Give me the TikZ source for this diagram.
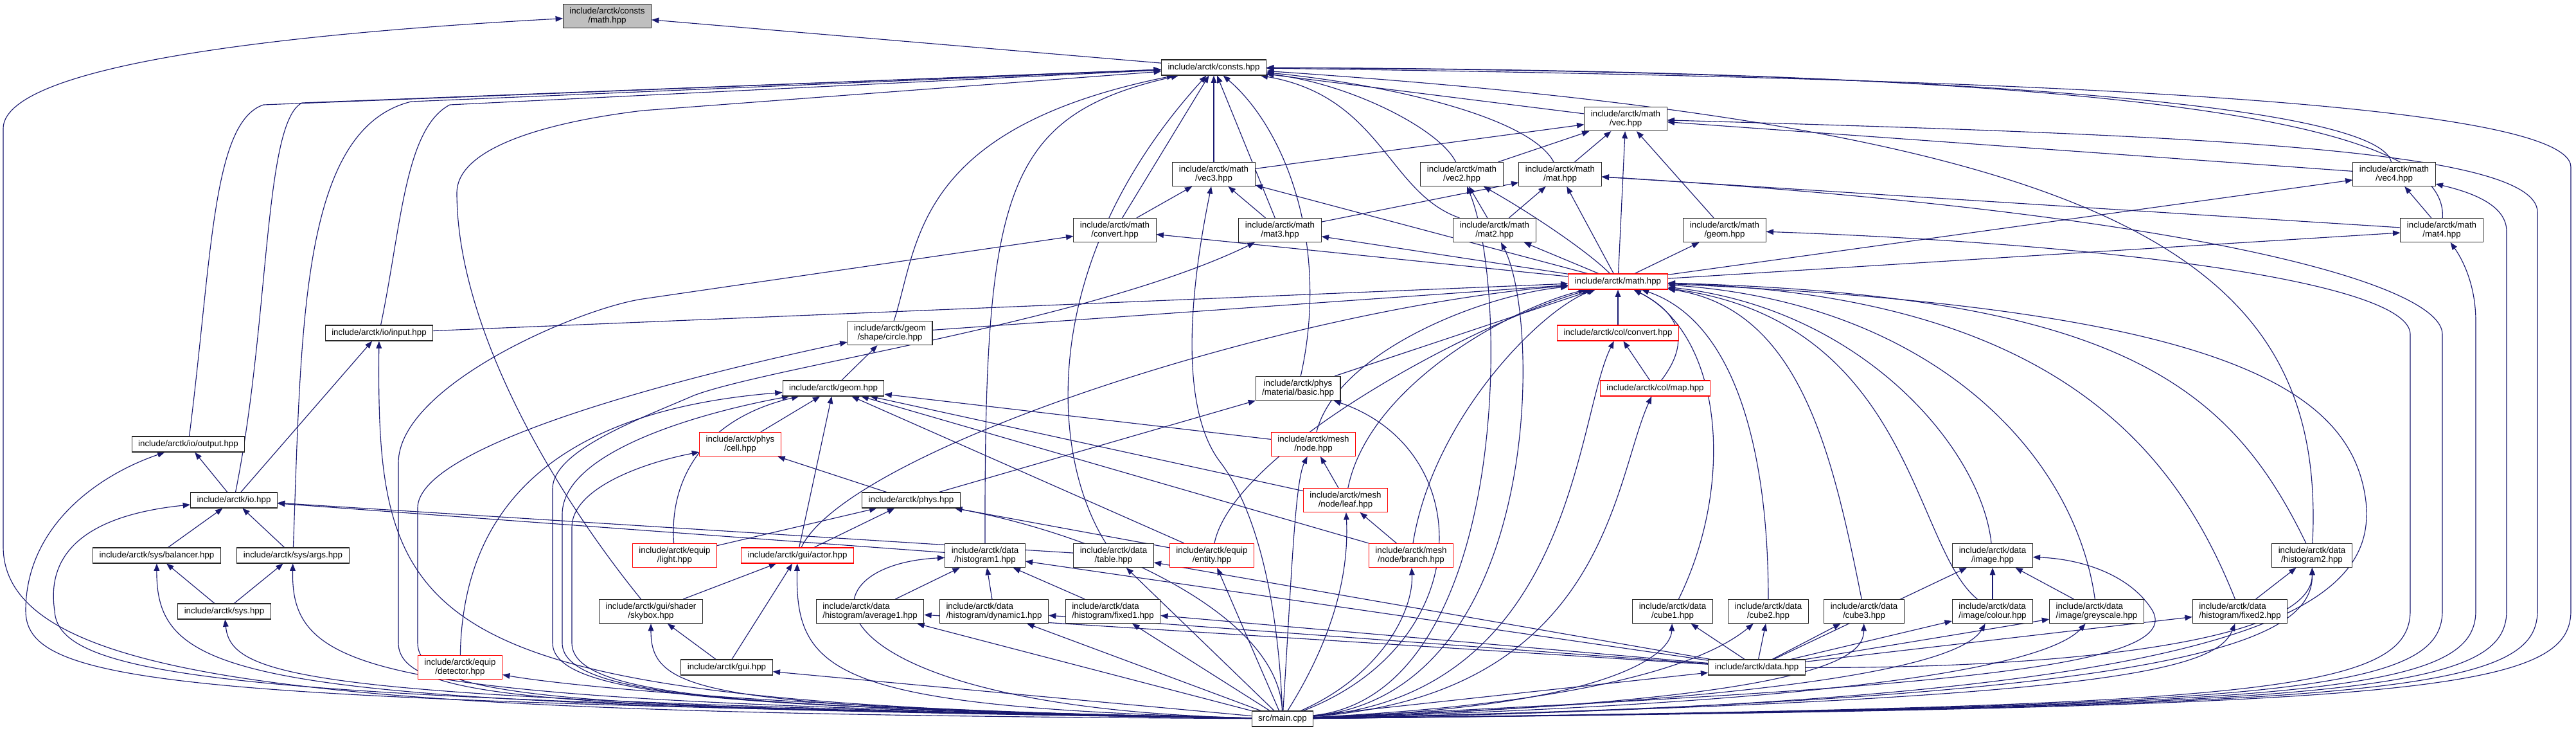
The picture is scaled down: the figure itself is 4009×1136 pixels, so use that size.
\documentclass[tikz,border=0pt]{standalone}
\usepackage{fontspec}
\setmainfont{Liberation Sans}
\usetikzlibrary{arrows.meta,backgrounds}
\definecolor{edgeblue}{HTML}{191970}
\definecolor{nodegrey}{HTML}{BFBFBF}
\tikzset{
  file/.style={draw=black!85,fill=white,line width=0.8pt,align=center,inner xsep=7.5pt,inner ysep=4pt,minimum height=18pt,font=\fontsize{10}{10.5}\selectfont},
  redfile/.style={file,draw=red},
  leftfile/.style={file,align=left},
  thisfile/.style={file,fill=nodegrey},
  dep/.style={draw=edgeblue,line width=0.85pt,-{Triangle[length=8.5pt,width=6.5pt]}}
}
\begin{document}
\begin{tikzpicture}[x=0.75pt,y=-0.75pt]
\useasboundingbox (0,0) rectangle (4009,1136);
\node[thisfile] (constsmath) at (945,25) {include/arctk/consts\\/math.hpp};
\node[file] (consts) at (1889,105) {include/arctk/consts.hpp};
\node[file] (vec) at (2530,185) {include/arctk/math\\/vec.hpp};
\node[file] (vec3) at (1889,271) {include/arctk/math\\/vec3.hpp};
\node[file] (vec2) at (2275,271) {include/arctk/math\\/vec2.hpp};
\node[file] (mat) at (2428,271) {include/arctk/math\\/mat.hpp};
\node[file] (vec4) at (3726,271) {include/arctk/math\\/vec4.hpp};
\node[file] (mconvert) at (1735,358) {include/arctk/math\\/convert.hpp};
\node[file] (mat3) at (1992,358) {include/arctk/math\\/mat3.hpp};
\node[file] (mat2) at (2326,358) {include/arctk/math\\/mat2.hpp};
\node[file] (mgeom) at (2684,358) {include/arctk/math\\/geom.hpp};
\node[file] (mat4) at (3800,358) {include/arctk/math\\/mat4.hpp};
\node[redfile] (math) at (2518,438) {include/arctk/math.hpp};
\node[file] (input) at (590,518) {include/arctk/io/input.hpp};
\node[file] (circle) at (1385,518) {include/arctk/geom\\/shape/circle.hpp};
\node[redfile] (colconvert) at (2518,518) {include/arctk/col/convert.hpp};
\node[file] (geom) at (1297,604) {include/arctk/geom.hpp};
\node[file] (basic) at (2020,604) {include/arctk/phys\\/material/basic.hpp};
\node[redfile] (colmap) at (2576,604) {include/arctk/col/map.hpp};
\node[file] (output) at (293,691) {include/arctk/io/output.hpp};
\node[redfile] (cell) at (1152,691) {include/arctk/phys\\/cell.hpp};
\node[redfile] (meshnode) at (2044,691) {include/arctk/mesh\\/node.hpp};
\node[file] (io) at (364,778) {include/arctk/io.hpp};
\node[file] (phys) at (1418,778) {include/arctk/phys.hpp};
\node[redfile] (leaf) at (2094,778) {include/arctk/mesh\\/node/leaf.hpp};
\node[file] (balancer) at (244,864) {include/arctk/sys/balancer.hpp};
\node[file] (args) at (456,864) {include/arctk/sys/args.hpp};
\node[redfile] (light) at (1050,864) {include/arctk/equip\\/light.hpp};
\node[redfile] (actor) at (1241,864) {include/arctk/gui/actor.hpp};
\node[file] (hist1) at (1533,864) {include/arctk/data\\/histogram1.hpp};
\node[file] (table) at (1733,864) {include/arctk/data\\/table.hpp};
\node[redfile] (entity) at (1886,864) {include/arctk/equip\\/entity.hpp};
\node[redfile] (branch) at (2196,864) {include/arctk/mesh\\/node/branch.hpp};
\node[file] (image) at (3101,864) {include/arctk/data\\/image.hpp};
\node[file] (hist2) at (3598,864) {include/arctk/data\\/histogram2.hpp};
\node[file] (sys) at (349,951) {include/arctk/sys.hpp};
\node[file] (skybox) at (1013,951) {include/arctk/gui/shader\\/skybox.hpp};
\node[leftfile] (avg1) at (1354,951) {include/arctk/data\\/histogram/average1.hpp};
\node[leftfile] (dyn1) at (1547,951) {include/arctk/data\\/histogram/dynamic1.hpp};
\node[leftfile] (fixed1) at (1732,951) {include/arctk/data\\/histogram/fixed1.hpp};
\node[file] (cube1) at (2603,951) {include/arctk/data\\/cube1.hpp};
\node[file] (cube2) at (2752,951) {include/arctk/data\\/cube2.hpp};
\node[file] (cube3) at (2901,951) {include/arctk/data\\/cube3.hpp};
\node[leftfile] (colour) at (3101,951) {include/arctk/data\\/image/colour.hpp};
\node[leftfile] (grey) at (3263,951) {include/arctk/data\\/image/greyscale.hpp};
\node[leftfile] (fixed2) at (3486,951) {include/arctk/data\\/histogram/fixed2.hpp};
\node[redfile] (detector) at (716,1038) {include/arctk/equip\\/detector.hpp};
\node[file] (gui) at (1131,1038) {include/arctk/gui.hpp};
\node[file] (data) at (2734,1038) {include/arctk/data.hpp};
\node[file] (main) at (1996,1118) {src/main.cpp};
\begin{scope}[on background layer]
\draw[dep] (consts) -- (constsmath);
\draw[dep] (output) .. controls (330,400) and (330,190) .. (410,163) -- (consts);
\draw[dep] (io) .. controls (420,500) and (410,190) .. (470,160) -- (consts);
\draw[dep] (args) .. controls (469,500) and (469,200) .. (640,158) -- (consts);
\draw[dep] (input) .. controls (625,350) and (630,200) .. (700,163) -- (consts);
\draw[dep] (skybox) .. controls (850,750) and (711,500) .. (711,300) .. controls (711,230) and (850,190) .. (1000,172) -- (consts);
\draw[dep] (circle) .. controls (1430,380) and (1420,200) .. (consts);
\draw[dep] (hist1) .. controls (1532,300) and (1560,180) .. (consts);
\draw[dep] (table) .. controls (1630,700) and (1620,400) .. (consts);
\draw[dep] (mconvert) -- (consts);
\draw[dep] (vec3) -- (consts);
\draw[dep] (mat3) -- (consts);
\draw[dep] (vec2) .. controls (2240,200) and (2100,130) .. (consts);
\draw[dep] (mat) .. controls (2380,180) and (2150,130) .. (consts);
\draw[dep] (mat2) .. controls (2160,300) and (2150,150) .. (consts);
\draw[dep] (basic) .. controls (2070,380) and (2000,200) .. (consts);
\draw[dep] (vec) -- (consts);
\draw[dep] (hist2) .. controls (3621,400) and (3300,200) .. (consts);
\draw[dep] (vec4) .. controls (3700,160) and (3000,110) .. (consts);
\draw[dep] (mat4) .. controls (3810,200) and (3400,110) .. (consts);
\draw[dep] (vec2) -- (vec);
\draw[dep] (vec3) -- (vec);
\draw[dep] (vec4) -- (vec);
\draw[dep] (mat) -- (vec);
\draw[dep] (mgeom) -- (vec);
\draw[dep] (math) -- (vec);
\draw[dep] (mconvert) -- (vec3);
\draw[dep] (mat3) -- (vec3);
\draw[dep] (math) -- (vec3);
\draw[dep] (mat2) -- (vec2);
\draw[dep] (math) .. controls (2470,390) and (2380,330) .. (vec2);
\draw[dep] (mat2) -- (mat);
\draw[dep] (math) -- (mat);
\draw[dep] (mat3) -- (mat);
\draw[dep] (mat4) -- (mat);
\draw[dep] (math) -- (vec4);
\draw[dep] (mat4) -- (vec4);
\draw[dep] (math) -- (mconvert);
\draw[dep] (math) -- (mat3);
\draw[dep] (math) -- (mat2);
\draw[dep] (math) -- (mgeom);
\draw[dep] (math) -- (mat4);
\draw[dep] (input) -- (math);
\draw[dep] (circle) -- (math);
\draw[dep] (actor) .. controls (1320,700) and (2000,480) .. (math);
\draw[dep] (basic) -- (math);
\draw[dep] (meshnode) .. controls (2080,550) and (2300,460) .. (math);
\draw[dep] (leaf) .. controls (2130,600) and (2350,480) .. (math);
\draw[dep] (branch) .. controls (2230,650) and (2400,480) .. (math);
\draw[dep] (entity) .. controls (1920,700) and (2300,500) .. (math);
\draw[dep] (colconvert) -- (math);
\draw[dep] (colmap) .. controls (2640,520) and (2600,480) .. (math);
\draw[dep] (cube1) .. controls (2702,750) and (2680,520) .. (math);
\draw[dep] (cube2) .. controls (2752,700) and (2700,500) .. (math);
\draw[dep] (cube3) .. controls (2851,700) and (2800,480) .. (math);
\draw[dep] (image) .. controls (3084,700) and (2900,480) .. (math);
\draw[dep] (colour) .. controls (2976,850) and (2976,500) .. (math);
\draw[dep] (grey) .. controls (3228,700) and (3000,470) .. (math);
\draw[dep] (fixed2) .. controls (3386,700) and (3200,460) .. (math);
\draw[dep] (hist2) .. controls (3470,600) and (3300,460) .. (math);
\draw[dep] (geom) -- (circle);
\draw[dep] (cell) -- (geom);
\draw[dep] (light) .. controls (1041,740) and (1100,650) .. (geom);
\draw[dep] (actor) -- (geom);
\draw[dep] (entity) -- (geom);
\draw[dep] (detector) .. controls (720,800) and (850,640) .. (geom);
\draw[dep] (leaf) -- (geom);
\draw[dep] (meshnode) -- (geom);
\draw[dep] (branch) -- (geom);
\draw[dep] (io) -- (output);
\draw[dep] (io) -- (input);
\draw[dep] (balancer) -- (io);
\draw[dep] (args) -- (io);
\draw[dep] (sys) -- (balancer);
\draw[dep] (sys) -- (args);
\draw[dep] (table) -- (io);
\draw[dep] (hist1) -- (io);
\draw[dep] (avg1) -- (hist1);
\draw[dep] (dyn1) -- (hist1);
\draw[dep] (fixed1) -- (hist1);
\draw[dep] (data) -- (hist1);
\draw[dep] (data) -- (table);
\draw[dep] (data) -- (avg1);
\draw[dep] (data) -- (dyn1);
\draw[dep] (data) -- (fixed1);
\draw[dep] (data) -- (cube1);
\draw[dep] (data) -- (cube2);
\draw[dep] (data) -- (cube3);
\draw[dep] (data) -- (image);
\draw[dep] (data) -- (colour);
\draw[dep] (data) -- (grey);
\draw[dep] (data) -- (fixed2);
\draw[dep] (data) .. controls (3200,1040) and (3600,1000) .. (hist2);
\draw[dep] (colour) -- (image);
\draw[dep] (grey) -- (image);
\draw[dep] (fixed2) -- (hist2);
\draw[dep] (leaf) -- (meshnode);
\draw[dep] (branch) -- (leaf);
\draw[dep] (colmap) -- (colconvert);
\draw[dep] (phys) -- (cell);
\draw[dep] (phys) -- (basic);
\draw[dep] (light) -- (phys);
\draw[dep] (actor) -- (phys);
\draw[dep] (entity) -- (phys);
\draw[dep] (skybox) -- (actor);
\draw[dep] (gui) -- (actor);
\draw[dep] (gui) -- (skybox);
\draw[dep] (main) .. controls (600,1110) and (5,1080) .. (5,850) -- (5,200) .. controls (5,120) and (300,60) .. (constsmath);
\draw[dep] (main) .. controls (300,1090) and (40,1070) .. (40,950) .. controls (40,820) and (150,740) .. (output);
\draw[dep] (main) .. controls (400,1090) and (90,1060) .. (85,950) .. controls (70,850) and (150,800) .. (io);
\draw[dep] (main) .. controls (400,1095) and (243,1070) .. (balancer);
\draw[dep] (main) .. controls (500,1090) and (360,1060) .. (sys);
\draw[dep] (main) .. controls (600,1090) and (452,1060) .. (args);
\draw[dep] (main) .. controls (650,1095) and (585,1000) .. (input);
\draw[dep] (main) .. controls (1300,1105) and (900,1070) .. (detector);
\draw[dep] (main) .. controls (900,1100) and (620,1095) .. (620,1000) -- (620,720) .. controls (620,600) and (900,480) .. (1000,465) -- (mconvert);
\draw[dep] (main) .. controls (950,1100) and (650,1095) .. (650,1000) -- (650,790) .. controls (650,700) and (1000,600) .. (circle);
\draw[dep] (main) .. controls (1200,1100) and (860,1090) .. (860,1000) -- (860,760) .. controls (860,700) and (1000,650) .. (1080,615) .. controls (1200,570) and (1700,500) .. (mat3);
\draw[dep] (main) .. controls (1200,1100) and (875,1090) .. (875,1000) -- (875,800) .. controls (875,700) and (1100,640) .. (geom);
\draw[dep] (main) .. controls (1200,1100) and (890,1090) .. (890,1000) -- (890,820) .. controls (890,760) and (1000,720) .. (cell);
\draw[dep] (main) .. controls (1100,1100) and (1013,1080) .. (skybox);
\draw[dep] (main) -- (gui);
\draw[dep] (main) .. controls (1300,1100) and (1237,1050) .. (actor);
\draw[dep] (main) .. controls (1250,1100) and (1230,880) .. (hist1);
\draw[dep] (main) -- (avg1);
\draw[dep] (main) -- (dyn1);
\draw[dep] (main) -- (fixed1);
\draw[dep] (main) -- (table);
\draw[dep] (main) -- (entity);
\draw[dep] (main) .. controls (1990,950) and (1700,830) .. (phys);
\draw[dep] (main) .. controls (1990,950) and (1960,800) .. (1900,720) .. controls (1845,650) and (1842,500) .. (vec3);
\draw[dep] (main) .. controls (2010,900) and (2015,750) .. (meshnode);
\draw[dep] (main) .. controls (2070,1000) and (2100,900) .. (leaf);
\draw[dep] (main) .. controls (2150,1050) and (2200,950) .. (branch);
\draw[dep] (main) .. controls (2300,1000) and (2300,700) .. (basic);
\draw[dep] (main) .. controls (2350,1080) and (2350,450) .. (vec2);
\draw[dep] (main) .. controls (2400,1080) and (2400,500) .. (mat2);
\draw[dep] (main) .. controls (2450,1080) and (2452,650) .. (colconvert);
\draw[dep] (main) .. controls (2500,1080) and (2510,750) .. (colmap);
\draw[dep] (main) -- (data);
\draw[dep] (main) .. controls (2500,1100) and (2600,1020) .. (cube1);
\draw[dep] (main) .. controls (2550,1090) and (2680,1010) .. (cube2);
\draw[dep] (main) .. controls (2850,1090) and (2900,1020) .. (cube3);
\draw[dep] (main) .. controls (3000,1070) and (3400,1040) .. (3350,950) .. controls (3320,900) and (3250,870) .. (image);
\draw[dep] (main) .. controls (2900,1085) and (3060,1020) .. (colour);
\draw[dep] (main) .. controls (3000,1090) and (3200,1020) .. (grey);
\draw[dep] (main) .. controls (3300,1090) and (3450,1040) .. (fixed2);
\draw[dep] (main) .. controls (3400,1090) and (3600,1000) .. (hist2);
\draw[dep] (main) .. controls (3500,1095) and (3700,950) .. (3682,780) .. controls (3660,600) and (3450,480) .. (math);
\draw[dep] (main) .. controls (3500,1100) and (3751,1080) .. (3751,950) -- (3751,520) .. controls (3751,440) and (3300,380) .. (mgeom);
\draw[dep] (main) .. controls (3550,1100) and (3801,1080) .. (3801,950) -- (3801,520) .. controls (3801,440) and (3400,330) .. (mat);
\draw[dep] (main) .. controls (3600,1100) and (3853,1080) .. (3853,950) -- (3853,500) .. controls (3853,440) and (3830,400) .. (mat4);
\draw[dep] (main) .. controls (3650,1100) and (3901,1080) .. (3901,950) -- (3901,360) .. controls (3901,320) and (3850,300) .. (vec4);
\draw[dep] (main) .. controls (3700,1100) and (3949,1080) .. (3949,950) -- (3949,330) .. controls (3949,230) and (3400,210) .. (vec);
\draw[dep] (main) .. controls (3750,1100) and (4001,1080) .. (4001,950) -- (4001,260) .. controls (4001,150) and (3000,120) .. (consts);
\end{scope}
\end{tikzpicture}
\end{document}
